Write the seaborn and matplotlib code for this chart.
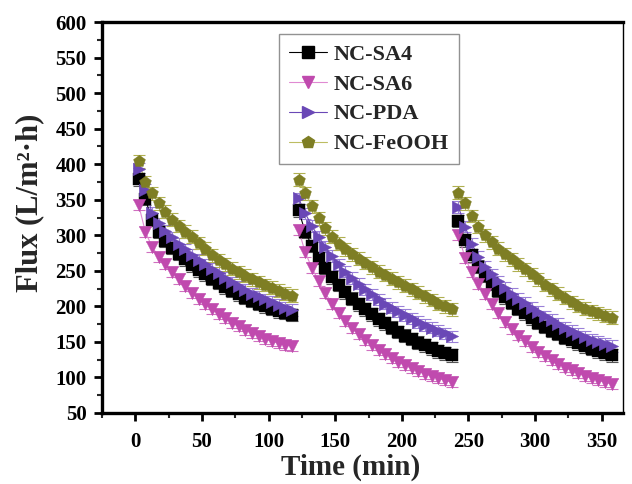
import matplotlib
matplotlib.use("Agg")
import matplotlib.pyplot as plt
import seaborn as sns
import pandas as pd
from matplotlib.lines import Line2D
from matplotlib.ticker import MultipleLocator

# ---------------- data ----------------
time_in_cycle = [2.5, 7.5, 12.5, 17.5, 22.5, 27.5, 32.5, 37.5, 42.5, 47.5, 52.5, 57.5,
                 62.5, 67.5, 72.5, 77.5, 82.5, 87.5, 92.5, 97.5, 102.5, 107.5, 112.5, 117.5]
cycle_start = [0, 120, 240]
series_names = ["NC-SA4", "NC-SA6", "NC-PDA", "NC-FeOOH"]

sa4_c1 = [379, 351, 322, 305, 292, 282, 274, 266, 258, 251, 245, 239, 233, 227, 222, 217, 212, 208, 204, 200, 197, 193, 191, 188]
sa4_c2 = [335, 305, 285, 268, 254, 241, 230, 220, 211, 203, 196, 189, 182, 176, 170, 164, 159, 154, 149, 145, 141, 137, 134, 131]
sa4_c3 = [320, 293, 272, 256, 243, 232, 222, 213, 205, 197, 190, 183, 177, 171, 166, 161, 156, 152, 148, 144, 140, 137, 134, 131]

sa6_c1 = [343, 305, 284, 270, 259, 249, 239, 229, 219, 211, 203, 196, 189, 183, 177, 172, 167, 162, 158, 154, 151, 148, 146, 144]
sa6_c2 = [308, 276, 254, 236, 219, 204, 191, 180, 170, 161, 153, 146, 139, 133, 127, 122, 117, 113, 109, 105, 102, 99, 96, 93]
sa6_c3 = [300, 268, 248, 232, 217, 203, 190, 178, 168, 159, 151, 143, 136, 130, 124, 119, 114, 110, 106, 102, 99, 96, 93, 91]

pda_c1 = [393, 364, 332, 317, 306, 297, 288, 280, 272, 265, 259, 253, 247, 240, 234, 228, 223, 218, 214, 210, 206, 202, 198, 195]
pda_c2 = [352, 331, 313, 298, 284, 271, 259, 249, 240, 232, 224, 217, 210, 204, 198, 193, 188, 183, 178, 174, 170, 166, 162, 158]
pda_c3 = [340, 312, 288, 270, 256, 245, 235, 226, 218, 211, 205, 198, 192, 186, 181, 175, 170, 166, 161, 157, 153, 150, 147, 144]

feo_c1 = [404, 375, 359, 345, 333, 322, 313, 305, 298, 289, 281, 272, 265, 259, 253, 248, 243, 238, 234, 230, 226, 222, 218, 215]
feo_c2 = [378, 359, 341, 324, 310, 298, 288, 280, 273, 267, 261, 255, 249, 244, 239, 234, 229, 224, 219, 214, 209, 204, 200, 196]
feo_c3 = [360, 345, 327, 312, 300, 290, 281, 273, 266, 259, 252, 245, 238, 230, 224, 218, 212, 206, 201, 197, 193, 190, 187, 184]

flux = {
    "NC-SA4": [sa4_c1, sa4_c2, sa4_c3],
    "NC-SA6": [sa6_c1, sa6_c2, sa6_c3],
    "NC-PDA": [pda_c1, pda_c2, pda_c3],
    "NC-FeOOH": [feo_c1, feo_c2, feo_c3],
}
err = {"NC-SA4": 9, "NC-SA6": 7, "NC-PDA": 8, "NC-FeOOH": 9}

x_ticks = [0, 50, 100, 150, 200, 250, 300, 350]
y_ticks = [50, 100, 150, 200, 250, 300, 350, 400, 450, 500, 550, 600]

# ---------------- styles ----------------
marker_col = {"NC-SA4": "#000000", "NC-SA6": "#C04AAE", "NC-PDA": "#6A48B6", "NC-FeOOH": "#7E7E24"}
line_col = {"NC-SA4": "#000000", "NC-SA6": "#E08AD2", "NC-PDA": "#6A48B6", "NC-FeOOH": "#BDBD62"}
err_col = {"NC-SA4": "#555555", "NC-SA6": "#D070C0", "NC-PDA": "#9A80D8", "NC-FeOOH": "#B0B050"}
markers = {"NC-SA4": "s", "NC-SA6": "v", "NC-PDA": ">", "NC-FeOOH": "p"}

rows = []
for name in series_names:
    for c, start in enumerate(cycle_start):
        for t, v in zip(time_in_cycle, flux[name][c]):
            rows.append({"series": name, "cycle": c, "time": start + t, "flux": v})
df = pd.DataFrame(rows)

sns.set_theme(style="white")
plt.rcParams["font.family"] = ["Liberation Serif", "DejaVu Serif"]
plt.rcParams["font.weight"] = "bold"
plt.rcParams["axes.labelweight"] = "bold"

fig = plt.figure(figsize=(6.32, 4.84), dpi=100)
fig.patch.set_facecolor("white")
ax = fig.add_axes([0.1614, 0.1467, 0.8244, 0.8078])
ax.set_facecolor("white")

for name in series_names:
    sub = df[df.series == name]
    for c in range(len(cycle_start)):
        s = sub[sub.cycle == c]
        ax.errorbar(s.time, s.flux, yerr=err[name], fmt="none", ecolor=err_col[name],
                    elinewidth=0.8, capsize=4, capthick=0.8, zorder=2)
    sns.lineplot(data=sub, x="time", y="flux", units="cycle", estimator=None,
                 color=line_col[name], lw=0.8, ax=ax, legend=False, zorder=3)
    sns.scatterplot(data=sub, x="time", y="flux", marker=markers[name], color=marker_col[name],
                    s=80, edgecolor=marker_col[name], linewidth=0.3, ax=ax, legend=False, zorder=4)

ax.set_xlim(-25, 366)
ax.set_ylim(50, 600)
ax.set_xticks(x_ticks, labels=[str(v) for v in x_ticks], fontsize=15, fontweight="bold")
ax.set_yticks(y_ticks, labels=[str(v) for v in y_ticks], fontsize=15, fontweight="bold")
ax.xaxis.set_minor_locator(MultipleLocator(25))
ax.yaxis.set_minor_locator(MultipleLocator(25))
ax.tick_params(axis="x", which="major", pad=8)
ax.tick_params(axis="y", which="major", pad=5)
ax.tick_params(axis="both", which="major", direction="out", length=6, width=2,
               colors="black", bottom=True, left=True, top=False, right=False)
ax.tick_params(axis="both", which="minor", direction="out", length=3.5, width=1.5,
               bottom=True, left=True, top=False, right=False)

for side in ["left", "bottom", "top"]:
    ax.spines[side].set_linewidth(2.4)
    ax.spines[side].set_color("black")
ax.spines["right"].set_linewidth(1.0)
ax.spines["right"].set_color("black")

ax.set_xlabel("Time (min)", fontsize=21, fontweight="bold")
ax.set_ylabel("Flux (L/m\u00b2\u00b7h)", fontsize=22, fontweight="bold")
ax.xaxis.set_label_coords(0.478, -0.105)
ax.yaxis.set_label_coords(-0.111, 0.537)

handles = [Line2D([0], [0], color=line_col[n], lw=0.8, marker=markers[n], markersize=9,
                  markerfacecolor=marker_col[n], markeredgecolor=marker_col[n]) for n in series_names]
leg = ax.legend(handles, series_names, loc="upper left", bbox_to_anchor=(0.34, 0.969),
                borderaxespad=0, frameon=True, fancybox=False, handlelength=1.7,
                prop={"family": "Liberation Serif", "weight": "bold", "size": 16},
                labelspacing=0.42, borderpad=0.45, handletextpad=0.3)
leg.get_frame().set_edgecolor("#777777")
leg.get_frame().set_linewidth(1.0)

fig.savefig("out.png", dpi=100, facecolor="white")
